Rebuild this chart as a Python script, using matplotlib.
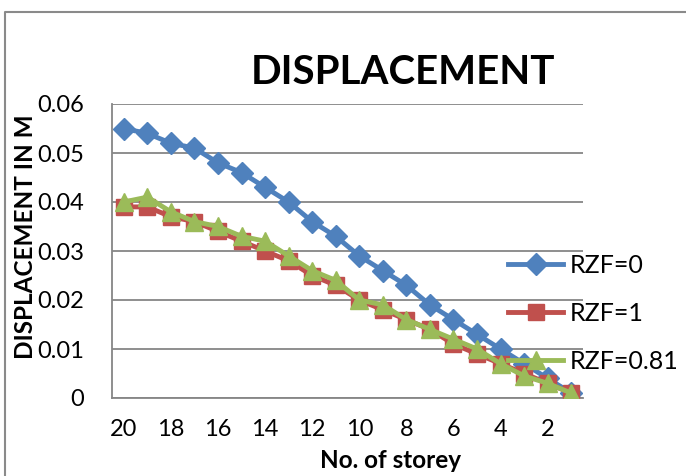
import matplotlib
matplotlib.use("Agg")
import matplotlib.pyplot as plt
from matplotlib.lines import Line2D

plt.rcParams['font.family'] = ['Lato', 'DejaVu Sans']

storeys = [20, 19, 18, 17, 16, 15, 14, 13, 12, 11, 10, 9, 8, 7, 6, 5, 4, 3, 2, 1]
rzf0 = [0.055, 0.054, 0.052, 0.051, 0.048, 0.046, 0.043, 0.040, 0.036, 0.033,
        0.029, 0.026, 0.023, 0.019, 0.016, 0.013, 0.010, 0.007, 0.004, 0.001]
rzf1 = [0.039, 0.039, 0.037, 0.036, 0.034, 0.032, 0.030, 0.028, 0.025, 0.023,
        0.020, 0.018, 0.016, 0.014, 0.011, 0.009, 0.007, 0.005, 0.003, 0.001]
rzf081 = [0.040, 0.041, 0.038, 0.036, 0.035, 0.033, 0.032, 0.029, 0.026, 0.024,
          0.020, 0.019, 0.016, 0.014, 0.012, 0.010, 0.007, 0.0045, 0.003, 0.001]
series_labels = ['RZF=0', 'RZF=1', 'RZF=0.81']
x_tick_labels = [20, 18, 16, 14, 12, 10, 8, 6, 4, 2]
y_ticks = [0, 0.01, 0.02, 0.03, 0.04, 0.05, 0.06]
y_tick_labels = ['0', '0.01', '0.02', '0.03', '0.04', '0.05', '0.06']

blue = '#4F81BD'
red = '#C0504D'
green = '#9BBB59'
grid = '#868686'

fig = plt.figure(figsize=(6.86, 4.76), dpi=100)
ax = fig.add_axes([112/686, 1-398/476, (583-112)/686, (398-104)/476])

# outer chart border (only top and left visible)
fig.add_artist(Line2D([5/686, 5/686, 1.0], [0.0, 1-12/476, 1-12/476],
                      transform=fig.transFigure, color='#8a8a8a', lw=1.5))

ax.plot(storeys, rzf0, color=blue, lw=3.5, marker='D', ms=11, label=series_labels[0], zorder=3)
ax.plot(storeys, rzf1, color=red, lw=3.5, marker='s', ms=12, label=series_labels[1], zorder=4)
ax.plot(storeys, rzf081, color=green, lw=3.5, marker='^', ms=13, label=series_labels[2], zorder=5)

ax.set_xlim(20.5, 0.5)
ax.set_ylim(0, 0.06)
ax.set_yticks(y_ticks)
ax.set_yticklabels(y_tick_labels)
ax.set_xticks(x_tick_labels)
ax.set_xticklabels([str(v) for v in x_tick_labels])
ax.tick_params(axis='both', length=0, labelsize=17, colors='black')
ax.tick_params(axis='x', pad=15)
ax.tick_params(axis='y', pad=20)

ax.yaxis.grid(True, color=grid, lw=1.3)
ax.set_axisbelow(True)
for s in ['top', 'right']:
    ax.spines[s].set_visible(False)
for s in ['left', 'bottom']:
    ax.spines[s].set_color(grid)
    ax.spines[s].set_linewidth(1.3)

fig.text(391/686, 1-460/476, 'No. of storey', fontsize=17.5, fontweight='bold',
         ha='center', va='center')
fig.text(26/686, 1-237/476, 'DISPLACEMENT IN M', rotation=90, fontsize=17.5,
         fontweight='bold', ha='center', va='center')
fig.text(403/686, 1-73/476, 'DISPLACEMENT', fontsize=29, fontweight='bold',
         ha='center', va='center')

leg = ax.legend(loc='upper left', bbox_to_anchor=(508/686, 1-254/476),
                bbox_transform=fig.transFigure, frameon=False, fontsize=18,
                handlelength=2.2, labelspacing=1.0, handletextpad=0.25,
                borderaxespad=0, borderpad=0)

fig.savefig('out.png', dpi=100)
